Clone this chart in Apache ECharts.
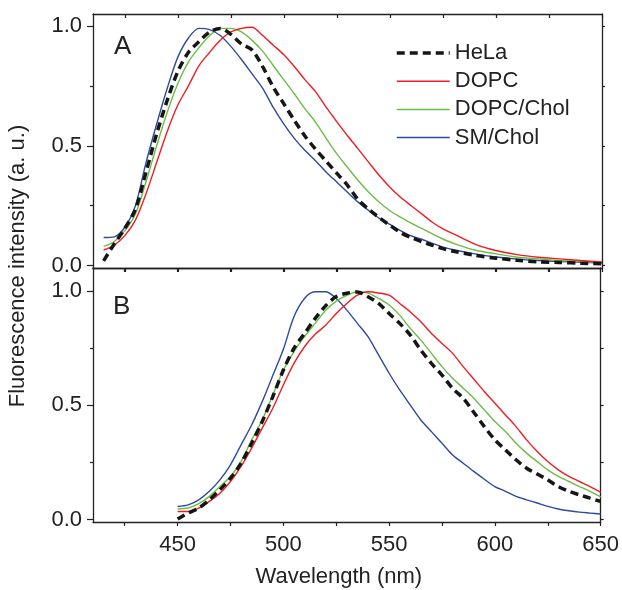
<!DOCTYPE html>
<html>
<head>
<meta charset="utf-8">
<script src="https://cdn.jsdelivr.net/npm/echarts@6/dist/echarts.min.js"></script>
<style>html,body{margin:0;padding:0;background:#fff}#c{width:622px;height:590px}</style>
</head>
<body>
<div id="c"></div>
<script>
// ---------- Data ----------
var seriesNames = ['HeLa', 'DOPC', 'DOPC/Chol', 'SM/Chol'];

// Panel A wavelengths (nm)
var wlA = [415,420,425,430,435,440,445,450,455,460,465,470,475,480,485,490,495,500,505,510,515,520,525,530,535,540,545,550,555,560,565,570,575,580,590,600,610,620,630,640,650];
var helaA = [0.02,0.09,0.155,0.235,0.39,0.55,0.69,0.81,0.89,0.935,0.975,0.99,0.965,0.925,0.9,0.83,0.745,0.675,0.605,0.54,0.485,0.435,0.385,0.335,0.275,0.235,0.2,0.168,0.138,0.117,0.1,0.085,0.071,0.06,0.043,0.031,0.022,0.016,0.013,0.01,0.008];
var dopcA = [0.065,0.085,0.125,0.19,0.3,0.43,0.56,0.67,0.75,0.835,0.89,0.94,0.975,0.99,0.995,0.96,0.92,0.88,0.83,0.775,0.725,0.66,0.6,0.542,0.487,0.431,0.376,0.327,0.285,0.25,0.216,0.181,0.153,0.132,0.09,0.063,0.046,0.035,0.028,0.021,0.015];
var dopcCholA = [0.08,0.1,0.145,0.215,0.35,0.5,0.64,0.76,0.85,0.91,0.96,0.99,0.99,0.975,0.94,0.895,0.835,0.775,0.716,0.654,0.598,0.53,0.466,0.41,0.355,0.306,0.264,0.229,0.202,0.177,0.155,0.132,0.111,0.093,0.065,0.049,0.035,0.028,0.021,0.017,0.013];
var smCholA = [0.117,0.12,0.16,0.25,0.43,0.59,0.74,0.87,0.95,0.99,0.985,0.96,0.915,0.86,0.8,0.74,0.66,0.59,0.53,0.48,0.437,0.39,0.348,0.306,0.265,0.23,0.197,0.172,0.146,0.124,0.11,0.093,0.077,0.066,0.049,0.036,0.027,0.021,0.017,0.014,0.011];

// Panel B wavelengths (nm)
var wlB = [450,455,460,465,470,475,480,485,490,495,500,505,510,515,520,525,530,535,540,545,550,555,560,565,570,575,580,585,590,595,600,605,610,615,620,625,630,635,640,645,650];
var helaB = [0.003,0.029,0.051,0.087,0.131,0.182,0.247,0.334,0.429,0.538,0.654,0.749,0.814,0.879,0.935,0.975,0.99,0.995,0.974,0.945,0.901,0.858,0.807,0.741,0.683,0.632,0.574,0.531,0.47,0.407,0.349,0.305,0.262,0.225,0.2,0.174,0.145,0.124,0.109,0.094,0.08];
var dopcB = [0.036,0.036,0.051,0.08,0.116,0.167,0.233,0.313,0.4,0.487,0.589,0.683,0.756,0.81,0.85,0.901,0.945,0.981,0.996,0.991,0.981,0.945,0.908,0.865,0.814,0.77,0.727,0.669,0.615,0.56,0.509,0.458,0.407,0.349,0.298,0.254,0.218,0.189,0.167,0.145,0.121];
var dopcCholB = [0.047,0.051,0.07,0.102,0.145,0.189,0.254,0.349,0.436,0.545,0.654,0.734,0.8,0.858,0.915,0.955,0.98,0.996,0.99,0.967,0.938,0.894,0.836,0.785,0.727,0.669,0.618,0.575,0.531,0.48,0.429,0.385,0.334,0.291,0.254,0.218,0.189,0.167,0.145,0.124,0.1];
var smCholB = [0.058,0.065,0.087,0.124,0.174,0.24,0.327,0.414,0.516,0.63,0.745,0.887,0.967,0.996,0.996,0.967,0.916,0.858,0.8,0.72,0.64,0.567,0.501,0.436,0.385,0.334,0.283,0.247,0.211,0.177,0.145,0.124,0.102,0.087,0.073,0.058,0.047,0.039,0.033,0.029,0.025];

// Tick values / labels
var xTickValues = [425,450,475,500,525,550,575,600,625,650];
var xLabelValues = [450,500,550,600,650];
var yMajorTicks = [0,0.5,1];
var yMinorTicks = [0.25,0.75];
var yAllTicks = [0,0.25,0.5,0.75,1];

// ---------- Chart ----------
var FONT = 'Liberation Sans, Arial, Helvetica, sans-serif';
var AX = '#222';
var colors = {'HeLa':'#161616','DOPC':'#ee1d23','DOPC/Chol':'#6cbd45','SM/Chol':'#2c4b9f'};
var gridTops = [14, 268];
var gridH = 254;
var yRanges = [[-0.01,1.05],[-0.01,1.1]];

var grids = [], xAxes = [], yAxes = [], series = [];

for (var g = 0; g < 2; g++) {
  grids.push({left:93, right:20, top:gridTops[g], height:gridH, containLabel:false});
  xAxes.push({
    gridIndex:g, type:'value', min:410, max:650, position:'bottom',
    axisLine:{show:true, onZero:false, lineStyle:{color:AX, width:1.3}},
    axisTick:{show:true, inside:false, length:4, customValues:xTickValues, lineStyle:{color:AX, width:1.2}},
    axisLabel:{show:g===1, customValues:xLabelValues, margin:12, fontSize:22, color:'#222', fontFamily:FONT},
    splitLine:{show:false},
    name: g===1 ? 'Wavelength (nm)' : '', nameLocation:'middle', nameGap:44,
    nameTextStyle:{fontSize:22, color:'#222', fontFamily:FONT, padding:[0,16,0,0]}
  });
  xAxes.push({
    gridIndex:g, type:'value', min:410, max:650, position:'top',
    axisLine:{show:true, onZero:false, lineStyle:{color:AX, width:1.3}},
    axisTick:{show:true, inside:true, length:4, customValues:xTickValues, lineStyle:{color:AX, width:1.2}},
    axisLabel:{show:false}, splitLine:{show:false}
  });
  var yr = yRanges[g];
  yAxes.push({
    gridIndex:g, type:'value', min:yr[0], max:yr[1], position:'left',
    axisLine:{show:true, onZero:false, lineStyle:{color:AX, width:1.3}},
    axisTick:{show:true, inside:false, length:6, customValues:yMajorTicks, lineStyle:{color:AX, width:1.2}},
    axisLabel:{show:true, customValues:yMajorTicks, margin:11, fontSize:22, color:'#222', fontFamily:FONT,
      formatter:function(v){return Number(v).toFixed(1);}},
    splitLine:{show:false}
  });
  yAxes.push({
    gridIndex:g, type:'value', min:yr[0], max:yr[1], position:'left',
    axisLine:{show:false},
    axisTick:{show:true, inside:false, length:3, customValues:yMinorTicks, lineStyle:{color:AX, width:1.2}},
    axisLabel:{show:false}, splitLine:{show:false}
  });
  yAxes.push({
    gridIndex:g, type:'value', min:yr[0], max:yr[1], position:'right',
    axisLine:{show:true, onZero:false, lineStyle:{color:AX, width:1.3}},
    axisTick:{show:true, inside:false, length:3, customValues:yAllTicks, lineStyle:{color:AX, width:1.2}},
    axisLabel:{show:false}, splitLine:{show:false}
  });
}

function pairs(xs, ys){ return xs.map(function(x,i){ return [x, ys[i]]; }); }

var panelData = [
  {wl:wlA, d:{'HeLa':helaA,'DOPC':dopcA,'DOPC/Chol':dopcCholA,'SM/Chol':smCholA}},
  {wl:wlB, d:{'HeLa':helaB,'DOPC':dopcB,'DOPC/Chol':dopcCholB,'SM/Chol':smCholB}}
];
var drawOrder = ['SM/Chol','DOPC/Chol','DOPC','HeLa'];
for (var p = 0; p < 2; p++) {
  drawOrder.forEach(function(name){
    var dashed = name === 'HeLa';
    series.push({
      type:'line', name:name, xAxisIndex:p*2, yAxisIndex:p*3,
      data:pairs(panelData[p].wl, panelData[p].d[name]),
      showSymbol:false, symbol:'none', smooth:0.3, silent:true, animation:false,
      lineStyle:{color:colors[name], width: dashed ? 3.5 : 1.4, type: dashed ? [8,5] : 'solid', cap:'butt'},
      itemStyle:{color:colors[name]}
    });
  });
}

var legendData = seriesNames.map(function(n){
  var dashed = n === 'HeLa';
  return {name:n, itemStyle:{opacity:0, color:'rgba(0,0,0,0)', borderWidth:0},
    lineStyle:{color:colors[n], width: dashed ? 3.5 : 1.5, type: dashed ? [8,5] : 'solid'}};
});

var chart = echarts.init(document.getElementById('c'), null, {renderer:'canvas'});
chart.setOption({
  backgroundColor:'#fff',
  animation:false,
  grid:grids, xAxis:xAxes, yAxis:yAxes, series:series,
  legend:{
    data:legendData, orient:'vertical', left:395, top:42, padding:0,
    itemWidth:53, itemHeight:12, itemGap:6.2, selectedMode:false,
    itemStyle:{opacity:0},
    textStyle:{fontSize:22, color:'#222', fontFamily:FONT}
  },
  graphic:[
    {type:'text', left:114, top:34, style:{text:'A', fontSize:26, fill:'#222', fontFamily:FONT}},
    {type:'text', left:113, top:294, style:{text:'B', fontSize:26, fill:'#222', fontFamily:FONT}},
    {type:'text', x:18, y:266, rotation:Math.PI/2,
      style:{text:'Fluorescence intensity (a. u.)', fontSize:22, fill:'#222', fontFamily:FONT,
        align:'center', verticalAlign:'middle'}}
  ]
});
</script>
</body>
</html>
